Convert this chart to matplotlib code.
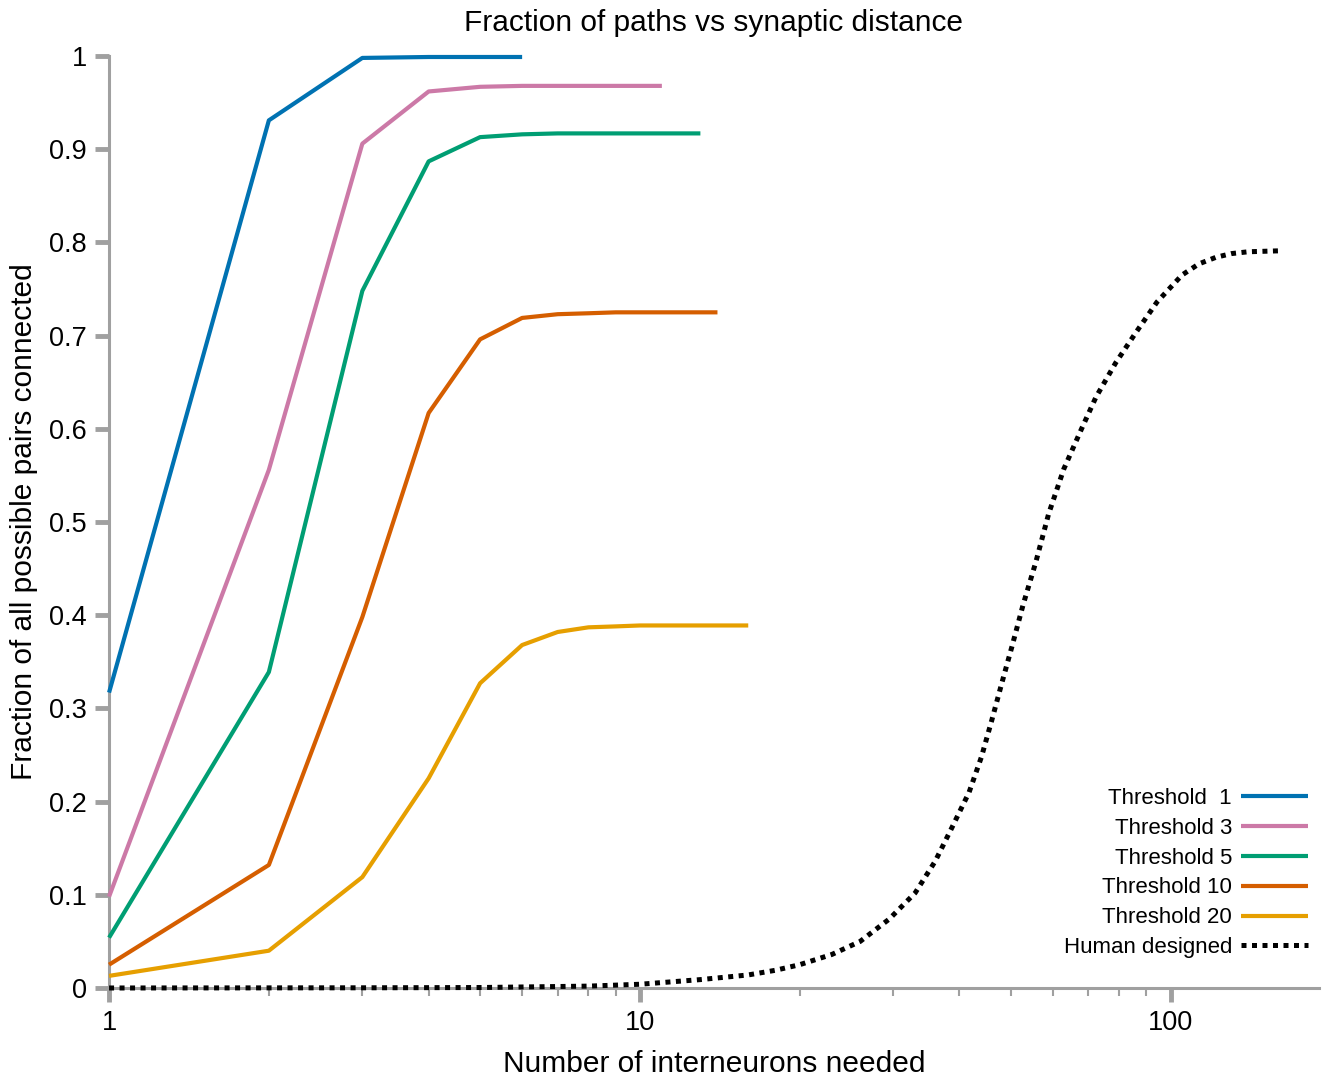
import numpy as np
import matplotlib.pyplot as plt
from matplotlib.ticker import FixedLocator, FuncFormatter, LogLocator, NullFormatter

plt.rcParams['font.family'] = ['Liberation Sans', 'DejaVu Sans']

# curvas por umbral (x = 1, 2, 3, ...)
thr1 = [0.317, 0.931, 0.998, 0.999, 0.999, 0.999]
thr3 = [0.098, 0.556, 0.906, 0.962, 0.967, 0.968, 0.968, 0.968, 0.968, 0.968, 0.968]
thr5 = [0.054, 0.339, 0.748, 0.887, 0.913, 0.916, 0.917, 0.917, 0.917, 0.917, 0.917, 0.917, 0.917]
thr10 = [0.025, 0.132, 0.398, 0.617, 0.696, 0.719, 0.723, 0.724, 0.725, 0.725, 0.725, 0.725, 0.725, 0.725]
thr20 = [0.013, 0.040, 0.119, 0.225, 0.327, 0.368, 0.382, 0.387, 0.388, 0.389, 0.389, 0.389, 0.389, 0.389, 0.389, 0.389]

# curva "human designed"
human_x = [1, 3, 5, 8, 10, 13, 16, 18, 20, 23, 26, 29.5, 33, 36, 38.7, 41.7, 44, 46, 48, 50.2,
           52.7, 55.7, 58.9, 62.9, 67.8, 72.3, 78.8, 85.9, 94.2, 105, 113, 121.6, 130, 140, 160]
human_y = [0.0, 0.0002, 0.0005, 0.002, 0.004, 0.009, 0.014, 0.019, 0.025, 0.036, 0.050, 0.074,
           0.102, 0.136, 0.172, 0.210, 0.248, 0.287, 0.326, 0.366, 0.411, 0.457, 0.509, 0.557,
           0.599, 0.634, 0.671, 0.703, 0.736, 0.765, 0.777, 0.784, 0.788, 0.790, 0.791]

series = [('Threshold  1', thr1, '#0072B2'),
          ('Threshold 3', thr3, '#CC79A7'),
          ('Threshold 5', thr5, '#009E73'),
          ('Threshold 10', thr10, '#D55E00'),
          ('Threshold 20', thr20, '#E69F00')]

fig = plt.figure(figsize=(13.22, 10.78), dpi=100)
ax = fig.add_axes([0.0825, 0.0835, 0.915, 0.8645])

for label, vals, color in series:
    xs = np.arange(1, len(vals) + 1)
    ax.plot(xs, vals, color=color, lw=3, label=label, solid_capstyle='butt',
            clip_on=False, zorder=3)

ax.plot(human_x, human_y, color='black', lw=3.6, linestyle=(0, (1, 1.1)),
        dash_capstyle='butt', label='Human designed', clip_on=False, zorder=3)

ax.set_xscale('log')
ax.set_xlim(1, 190)
ax.set_ylim(0, 1)

grey = '#a0a0a0'
for s in ['top', 'right']:
    ax.spines[s].set_visible(False)
for s in ['left', 'bottom']:
    ax.spines[s].set_color(grey)
    ax.spines[s].set_linewidth(2.2)

ax.xaxis.set_major_locator(FixedLocator([1, 10, 100]))
ax.xaxis.set_major_formatter(FuncFormatter(lambda v, p: '%d' % v))
ax.xaxis.set_minor_locator(LogLocator(base=10, subs=np.arange(2, 10)))
ax.xaxis.set_minor_formatter(NullFormatter())
ax.set_yticks(np.arange(0, 1.01, 0.1))
ax.yaxis.set_major_formatter(FuncFormatter(lambda v, p: '0' if abs(v) < 1e-9 else ('1' if abs(v - 1) < 1e-9 else '%.1f' % v)))

ax.tick_params(axis='both', which='major', direction='out', length=10, width=3.5,
               color=grey, labelsize=19.5, pad=6)
ax.tick_params(axis='x', which='minor', direction='out', length=6, width=1.5, color=grey)

ax.set_title('Fraction of paths vs synaptic distance', fontsize=21.5, pad=18)
ax.set_xlabel('Number of interneurons needed', fontsize=21.5, labelpad=10)
ax.set_ylabel('Fraction of all possible pairs connected', fontsize=21.5, labelpad=8)

leg = ax.legend(loc='lower right', bbox_to_anchor=(1.0, 0.02), frameon=False,
                markerfirst=False, fontsize=16, handlelength=3.0, handletextpad=0.4,
                labelspacing=0.4, borderaxespad=0.1)
for t in leg.get_texts():
    t.set_ha('right')

fig.savefig('out.png', dpi=100)
